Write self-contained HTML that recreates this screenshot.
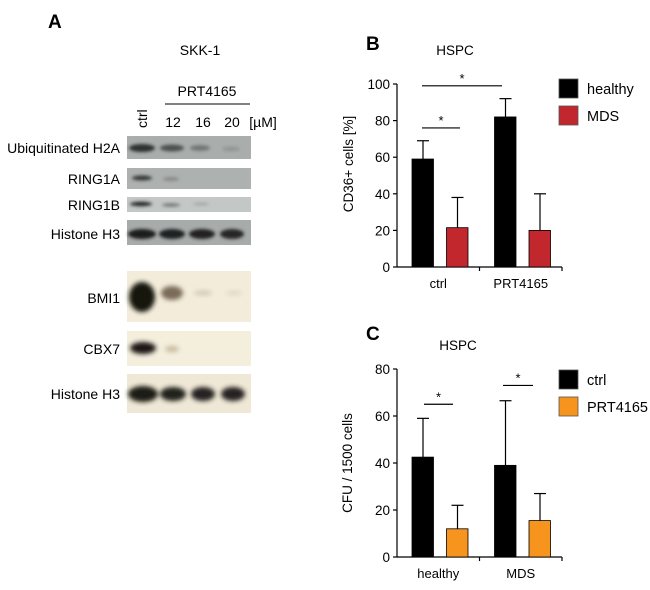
<!DOCTYPE html>
<html><head><meta charset="utf-8">
<style>
body{margin:0;background:#fff;}
svg{display:block;font-family:"Liberation Sans",Arial,sans-serif;}
</style></head>
<body>
<svg id="fig" width="650" height="590" viewBox="0 0 650 590">
<defs>
<filter id="bl" x="-50%" y="-100%" width="200%" height="300%"><feGaussianBlur stdDeviation="1.6"/></filter>
<filter id="bl2" x="-50%" y="-100%" width="200%" height="300%"><feGaussianBlur stdDeviation="2.5"/></filter>
</defs>
<g>
<text x="48" y="28" font-size="19" font-weight="bold">A</text>
<text x="200" y="55" font-size="14" text-anchor="middle">SKK-1</text>
<text x="207" y="96" font-size="14" text-anchor="middle">PRT4165</text>
<line x1="165" y1="104" x2="250" y2="104" stroke="#000" stroke-width="1"/>
<text x="0" y="0" font-size="14" transform="translate(147,128) rotate(-90)">ctrl</text>
<text x="173" y="127" font-size="14" text-anchor="middle">12</text>
<text x="203" y="127" font-size="14" text-anchor="middle">16</text>
<text x="232" y="127" font-size="14" text-anchor="middle">20</text>
<text x="263" y="127" font-size="14" text-anchor="middle">[µM]</text>
<g font-size="14" text-anchor="end">
<text x="120" y="153">Ubiquitinated H2A</text>
<text x="120" y="184">RING1A</text>
<text x="120" y="210">RING1B</text>
<text x="120" y="239">Histone H3</text>
<text x="120" y="303">BMI1</text>
<text x="120" y="354">CBX7</text>
<text x="120" y="399">Histone H3</text>
</g>
<rect x="127" y="136" width="124" height="23" fill="#a9aeac"/>
<rect x="127" y="168" width="124" height="21" fill="#adb1af"/>
<rect x="127" y="197" width="124" height="15" fill="#c3c7c5"/>
<rect x="127" y="220" width="124" height="25" fill="#a7aba9"/>
<g filter="url(#bl)">
<ellipse cx="142" cy="148" rx="13" ry="4" fill="#2e3030"/>
<ellipse cx="172" cy="148" rx="12" ry="3.5" fill="#4e5150"/>
<ellipse cx="200" cy="148" rx="10" ry="3" fill="#737675"/>
<ellipse cx="231" cy="149" rx="9" ry="2.5" fill="#939695"/>
<ellipse cx="142" cy="178" rx="10" ry="2.5" fill="#353737"/>
<ellipse cx="171" cy="179" rx="8" ry="2" fill="#858887"/>
<ellipse cx="141" cy="204" rx="11" ry="2.2" fill="#242626"/>
<ellipse cx="171" cy="205" rx="9" ry="1.6" fill="#6e7170"/>
<ellipse cx="201" cy="204" rx="8" ry="1.3" fill="#9ea1a0"/>
<ellipse cx="142" cy="234" rx="14" ry="5" fill="#1a1c1c"/>
<ellipse cx="172" cy="234" rx="13" ry="5" fill="#1e2020"/>
<ellipse cx="202" cy="234" rx="13" ry="5" fill="#222424"/>
<ellipse cx="232" cy="234" rx="12" ry="5" fill="#262828"/>
</g>
<rect x="127" y="271" width="124" height="51" fill="#f3ecdb"/>
<rect x="127" y="331" width="124" height="35" fill="#f4eedd"/>
<rect x="127" y="374" width="124" height="39" fill="#efe8d6"/>
<g filter="url(#bl2)">
<ellipse cx="142" cy="297" rx="13" ry="15" fill="#141210"/>
<ellipse cx="172" cy="293" rx="11" ry="7" fill="#7a6a58"/>
<ellipse cx="203" cy="293" rx="9" ry="2.5" fill="#d2c8b4"/>
<ellipse cx="234" cy="293" rx="8" ry="2" fill="#ddd4c0"/>
<ellipse cx="143" cy="348" rx="13" ry="6" fill="#1a1714"/>
<ellipse cx="172" cy="349" rx="7" ry="3" fill="#c8b99c"/>
<ellipse cx="143" cy="394" rx="15" ry="8" fill="#1c1a18"/>
<ellipse cx="173" cy="394" rx="13" ry="7" fill="#23201d"/>
<ellipse cx="203" cy="394" rx="12" ry="7" fill="#252220"/>
<ellipse cx="233" cy="394" rx="12" ry="7" fill="#272422"/>
</g>
</g>
<g id="chartB">
<text x="366" y="50" font-size="19" font-weight="bold">B</text>
<text x="455" y="55" font-size="13.5" text-anchor="middle">HSPC</text>
<text transform="translate(353,164) rotate(-90)" font-size="13.5" text-anchor="middle">CD36+ cells [%]</text>
</g>
<g id="chartC">
<text x="366" y="340" font-size="19" font-weight="bold">C</text>
<text x="458" y="350" font-size="13.5" text-anchor="middle">HSPC</text>
<text transform="translate(352,463) rotate(-90)" font-size="13.5" text-anchor="middle">CFU / 1500 cells</text>
</g>
</svg>
<script>
const NS="http://www.w3.org/2000/svg";
// Chart B data
const bCategories=["ctrl","PRT4165"];
const bSeries=["healthy","MDS"];
const bHealthy=[59,82];
const bMDS=[21.5,20];
const bHealthyErr=[10,10];
const bMDSErr=[16.5,20];
const bTicks=[0,20,40,60,80,100];
// Chart C data
const cCategories=["healthy","MDS"];
const cSeries=["ctrl","PRT4165"];
const cCtrl=[42.5,39];
const cPRT=[12,15.5];
const cCtrlErr=[16.5,27.5];
const cPRTErr=[10,11.5];
const cTicks=[0,20,40,60,80];

function mk(parent,tag,attrs,text){const e=document.createElementNS(NS,tag);for(const k in attrs)e.setAttribute(k,attrs[k]);if(text!==undefined)e.textContent=text;parent.appendChild(e);return e;}

function drawChart(g,opt){
  const y0=opt.y0,y1=opt.y1,max=opt.max,ax=397,xEnd=562;
  const Y=v=>y0-(v/max)*(y0-y1);
  const axis=mk(g,"g",{});
  
  
  mk(axis,"line",{x1:ax,y1:Y(max),x2:ax,y2:y0,stroke:"#000","stroke-width":1.2});
  opt.ticks.forEach(t=>{
    mk(axis,"line",{x1:ax-4,y1:Y(t),x2:ax,y2:Y(t),stroke:"#000","stroke-width":1.2});
    const tl=mk(axis,"text",{x:ax-7,y:Y(t)+5,"font-size":13.5,"text-anchor":"end"},String(t));
    
    
  });
  const xa=mk(g,"g",{});
  
  
  mk(xa,"line",{x1:ax,y1:y0,x2:xEnd,y2:y0,stroke:"#000","stroke-width":1.2});
  const gw=(xEnd-ax)/opt.cats.length;
  opt.cats.forEach((c,i)=>{
    const gx=ax+gw*i;
    mk(xa,"line",{x1:gx+gw,y1:y0,x2:gx+gw,y2:y0+4,stroke:"#000","stroke-width":1.2});
    const cl=mk(xa,"text",{x:gx+gw/2,y:y0+21,"font-size":13,"text-anchor":"middle"},c);
    
    
    const offs=[15,49.5];
    opt.vals.forEach((arr,s)=>{
      const x=gx+offs[s],v=arr[i],top=Y(v);
      const e=opt.errs[s][i];
      const el=mk(g,"line",{x1:x+11,y1:Y(v+e),x2:x+11,y2:top,stroke:"#000","stroke-width":1.2});
      
      
      mk(g,"line",{x1:x+5,y1:Y(v+e),x2:x+17,y2:Y(v+e),stroke:"#000","stroke-width":1.2});
      const r=mk(g,"rect",{x:x,y:top,width:21.5,height:y0-top,fill:opt.colors[s],stroke:"#000","stroke-width":0.8});
      
      
    });
  });
  opt.sig.forEach(sg=>{
    const sl=mk(g,"line",{x1:sg[0],y1:Y(sg[2]),x2:sg[1],y2:Y(sg[2]),stroke:"#000","stroke-width":1.2});
    
    
    mk(g,"text",{x:(sg[0]+sg[1])/2,y:Y(sg[2])-3,"font-size":13,"text-anchor":"middle"},"*");
  });
  opt.series.forEach((s,i)=>{
    const ly=opt.legY+i*27;
    const lg=mk(g,"g",{});
    
    
    mk(lg,"rect",{x:559,y:ly,width:19,height:19,fill:opt.colors[i],stroke:"#555","stroke-width":0.8});
    mk(lg,"text",{x:587,y:ly+15,"font-size":14.5},s);
  });
}
drawChart(document.getElementById("chartB"),{y0:267,y1:84,max:100,ticks:bTicks,cats:bCategories,series:bSeries,
  vals:[bHealthy,bMDS],errs:[bHealthyErr,bMDSErr],colors:["#000","#c1272d"],legY:79,
  sig:[[422,460,76],[422,502,99]]});
drawChart(document.getElementById("chartC"),{y0:557,y1:369,max:80,ticks:cTicks,cats:cCategories,series:cSeries,
  vals:[cCtrl,cPRT],errs:[cCtrlErr,cPRTErr],colors:["#000","#f7941d"],legY:370,
  sig:[[424,453,65],[503,533,73]]});
</script>
</body></html>
